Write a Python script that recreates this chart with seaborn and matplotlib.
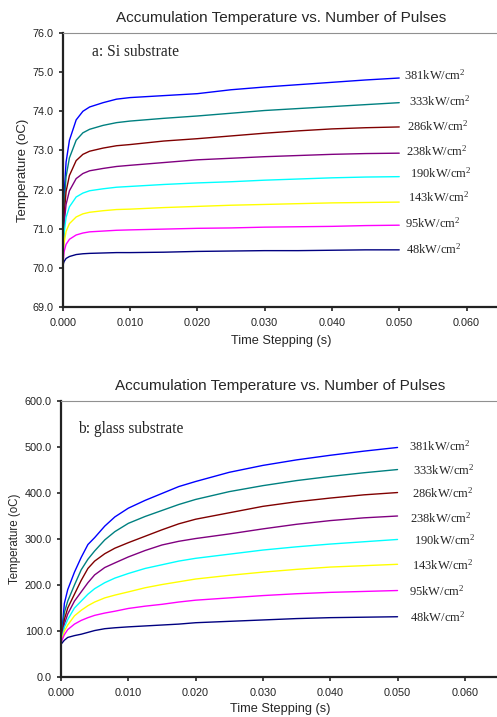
import matplotlib
matplotlib.use("Agg")
import matplotlib.pyplot as plt
import seaborn as sns
import pandas as pd

# ---- data -------------------------------------------------------------
intensities = ["381", "333", "286", "238", "190", "143", "95", "48"]
line_colors = ["#0000FF", "#008080", "#800000", "#800080",
               "#00FFFF", "#FFFF00", "#FF00FF", "#000080"]

# (a) Si substrate, time in s, temperature in oC
time_si = [0, 0.0002, 0.0005, 0.001, 0.002, 0.003, 0.004, 0.006, 0.008, 0.010,
           0.015, 0.020, 0.025, 0.030, 0.035, 0.040, 0.045, 0.050]
si_381 = [70.0, 71.83, 72.70, 73.26, 73.78, 74.00, 74.11, 74.22, 74.31, 74.35,
          74.40, 74.45, 74.55, 74.62, 74.68, 74.74, 74.80, 74.85]
si_333 = [70.0, 71.58, 72.33, 72.81, 73.26, 73.45, 73.54, 73.64, 73.71, 73.75,
          73.82, 73.88, 73.95, 74.02, 74.07, 74.12, 74.17, 74.22]
si_286 = [70.0, 71.32, 71.95, 72.36, 72.74, 72.90, 72.98, 73.06, 73.12, 73.15,
          73.24, 73.30, 73.37, 73.44, 73.50, 73.55, 73.58, 73.60]
si_238 = [70.0, 71.10, 71.62, 71.97, 72.28, 72.41, 72.48, 72.54, 72.59, 72.62,
          72.69, 72.76, 72.80, 72.84, 72.87, 72.90, 72.92, 72.93]
si_190 = [70.0, 70.87, 71.29, 71.56, 71.81, 71.91, 71.97, 72.02, 72.06, 72.08,
          72.13, 72.17, 72.20, 72.24, 72.27, 72.30, 72.32, 72.33]
si_143 = [70.0, 70.63, 70.93, 71.13, 71.30, 71.38, 71.42, 71.46, 71.49, 71.50,
          71.54, 71.57, 71.60, 71.62, 71.64, 71.66, 71.67, 71.68]
si_95 = [70.0, 70.41, 70.60, 70.73, 70.84, 70.89, 70.92, 70.94, 70.96, 70.97,
         70.99, 71.01, 71.02, 71.04, 71.05, 71.06, 71.08, 71.09]
si_48 = [70.05, 70.16, 70.24, 70.29, 70.34, 70.36, 70.37, 70.38, 70.39, 70.39,
         70.40, 70.42, 70.43, 70.44, 70.44, 70.45, 70.46, 70.46]

# (b) glass substrate
time_glass = [0, 0.0005, 0.001, 0.002, 0.003, 0.004, 0.005, 0.0065, 0.008, 0.010,
              0.0125, 0.015, 0.0175, 0.020, 0.025, 0.030, 0.035, 0.040, 0.045, 0.050]
glass_381 = [75, 160, 190, 228, 260, 288, 303, 328, 348, 367,
             384, 399, 414, 425, 445, 460, 472, 482, 491, 499]
glass_333 = [75, 140, 165, 200, 233, 256, 274, 298, 316, 334,
             349, 362, 375, 386, 403, 416, 427, 436, 444, 451]
glass_286 = [75, 125, 150, 180, 210, 236, 252, 268, 280, 292,
             306, 320, 333, 343, 357, 371, 381, 389, 396, 401]
glass_238 = [75, 115, 137, 165, 185, 205, 222, 238, 248, 261,
             275, 287, 295, 301, 311, 322, 332, 340, 346, 350]
glass_190 = [75, 108, 125, 150, 165, 180, 192, 205, 215, 225,
             236, 244, 252, 258, 267, 276, 283, 289, 294, 299]
glass_143 = [75, 100, 113, 133, 145, 155, 163, 172, 178, 185,
             194, 201, 207, 213, 221, 228, 234, 239, 242, 245]
glass_95 = [75, 92, 103, 115, 123, 129, 134, 139, 143, 149,
            154, 158, 163, 167, 172, 177, 181, 184, 186, 188]
glass_48 = [71, 80, 86, 90, 93, 97, 101, 105, 107, 109,
            111, 113, 115, 118, 121, 124, 127, 129, 130, 131]

si_series = [si_381, si_333, si_286, si_238, si_190, si_143, si_95, si_48]
glass_series = [glass_381, glass_333, glass_286, glass_238,
                glass_190, glass_143, glass_95, glass_48]


def long_form(times, series):
    rows = []
    for name, values in zip(intensities, series):
        for t, v in zip(times, values):
            rows.append({"time": t, "temp": v, "intensity": name})
    return pd.DataFrame(rows)


# ---- style ------------------------------------------------------------
sns.set_style("ticks")
plt.rcParams["font.family"] = ["Liberation Sans", "DejaVu Sans"]
plt.rcParams["mathtext.fontset"] = "custom"
plt.rcParams["mathtext.rm"] = "Liberation Serif"
plt.rcParams["mathtext.default"] = "regular"

fig = plt.figure(figsize=(4.97, 7.17), dpi=100)
ax_top = fig.add_axes([62.7 / 497, 410 / 717, 437.5 / 497, 274 / 717])
ax_bot = fig.add_axes([61 / 497, 40 / 717, 437.5 / 497, 276 / 717])

# label offsets (pixels) from each curve's final point
top_offsets = [(5, 3), (10, 1), (8, 1), (7, 2), (11, 3.5), (9, 5), (6, 2), (7, 1)]
bot_offsets = [(11, 1), (15, -1), (14, -1), (12, -2), (16, -0.5), (14, -1), (11, -1), (12, -0.5)]

xtick_vals = [0, 0.01, 0.02, 0.03, 0.04, 0.05, 0.06]


def draw_panel(ax, times, series, ylim, yticks, panel_text, text_xy, offsets,
               ylabel_size, ylabel_x, xlabel_y):
    df = long_form(times, series)
    sns.lineplot(data=df, x="time", y="temp", hue="intensity",
                 hue_order=intensities, palette=line_colors,
                 linewidth=1.0, legend=False, ax=ax, estimator=None)
    ax.set_xlim(0, 0.065)
    ax.set_ylim(*ylim)
    ax.set_xticks(xtick_vals)
    ax.set_xticklabels([f"{v:.3f}" for v in xtick_vals])
    ax.set_yticks(yticks)
    ax.set_yticklabels([f"{v:.1f}" for v in yticks])
    ax.tick_params(axis="both", labelsize=7.8, length=3.0, width=1.2,
                   colors="#222222")
    ax.tick_params(axis="x", pad=5.2)
    ax.tick_params(axis="y", pad=3.5)
    ax.set_xlabel("Time Stepping (s)", fontsize=9.2)
    ax.set_ylabel("Temperature (oC)", fontsize=ylabel_size)
    ax.xaxis.set_label_coords(0.5, xlabel_y)
    ax.yaxis.set_label_coords(ylabel_x, 0.5)
    ax.set_title("Accumulation Temperature vs. Number of Pulses",
                 fontsize=11.0, pad=8)
    for side in ("left", "bottom"):
        ax.spines[side].set_color("#222222")
        ax.spines[side].set_linewidth(1.6)
    ax.spines["top"].set_color("#909090")
    ax.spines["top"].set_linewidth(0.8)
    ax.spines["right"].set_visible(False)
    ax.text(*text_xy, panel_text, transform=ax.transAxes,
            fontfamily="Liberation Serif", fontsize=11.2, va="center")
    for name, values, (dx, dy) in zip(intensities, series, offsets):
        ax.annotate(f"{name}kW/cm$^{{2}}$", xy=(times[-1], values[-1]),
                    xytext=(dx, dy), textcoords="offset pixels",
                    fontfamily="Liberation Serif", fontsize=9.0,
                    va="center", ha="left")


draw_panel(ax_top, time_si, si_series, (69.0, 76.0),
           [69.0, 70.0, 71.0, 72.0, 73.0, 74.0, 75.0, 76.0],
           "a: Si substrate", (0.066, 0.93), top_offsets,
           9.5, -0.076, -0.103)
draw_panel(ax_bot, time_glass, glass_series, (0.0, 600.0),
           [0.0, 100.0, 200.0, 300.0, 400.0, 500.0, 600.0],
           "b: glass substrate", (0.039, 0.90), bot_offsets,
           8.3, -0.092, -0.096)

fig.savefig("out.png", dpi=100)
